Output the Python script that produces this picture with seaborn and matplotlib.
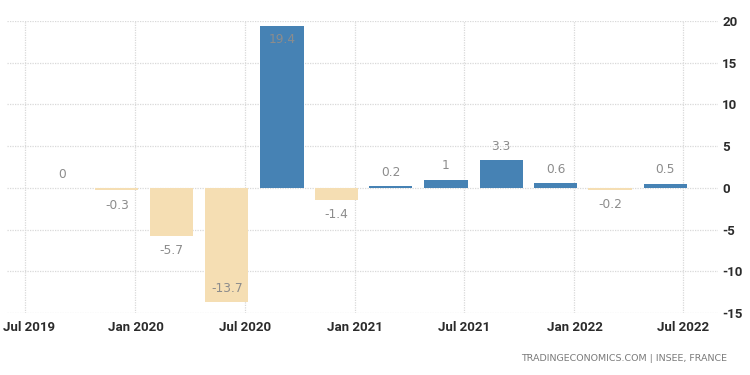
import pandas as pd
import numpy as np
import matplotlib
matplotlib.use("Agg")
import matplotlib.pyplot as plt
import matplotlib.dates as mdates
import matplotlib.transforms as mtransforms
import seaborn as sns

# quarterly GDP growth, France (QoQ %)
quarters = ["2019-09-01", "2019-12-01", "2020-03-01", "2020-06-01",
            "2020-09-01", "2020-12-01", "2021-03-01", "2021-06-01",
            "2021-09-01", "2021-12-01", "2022-03-01", "2022-06-01"]
values = [0, -0.3, -5.7, -13.7, 19.4, -1.4, 0.2, 1, 3.3, 0.6, -0.2, 0.5]
value_labels = ["0", "-0.3", "-5.7", "-13.7", "19.4", "-1.4", "0.2", "1", "3.3", "0.6", "-0.2", "0.5"]

tick_dates = ["2019-07-01", "2020-01-01", "2020-07-01", "2021-01-01",
              "2021-07-01", "2022-01-01", "2022-07-01"]
tick_labels = ["Jul 2019", "Jan 2020", "Jul 2020", "Jan 2021",
               "Jul 2021", "Jan 2022", "Jul 2022"]
y_ticks = [-15, -10, -5, 0, 5, 10, 15, 20]

sns.set_style("white")
plt.rcParams["font.family"] = ["Roboto", "DejaVu Sans"]

df = pd.DataFrame({
    "x": mdates.date2num(pd.to_datetime(quarters)),
    "v": values,
})
df["sign"] = np.where(df["v"] >= 0, "pos", "neg")

fig = plt.figure(figsize=(7.5, 3.75), dpi=100)
ax = fig.add_axes([0.0093, 0.165, 0.948, 0.779])

sns.barplot(data=df, x="x", y="v", hue="sign",
            palette={"pos": "#4682b4", "neg": "#f5deb3"},
            native_scale=True, dodge=False, width=0.8,
            legend=False, saturation=1, linewidth=0, ax=ax)

ymin, ymax = -15, 20
ax.set_ylim(ymin, ymax)
ax.set_xlim(mdates.date2num(pd.Timestamp("2019-06-01")),
            mdates.date2num(pd.Timestamp("2022-08-28")))

# value labels: outside the bar end, flipped inside if they would leave the axes
for x, v, lab in zip(df["x"], df["v"], value_labels):
    if v >= 0:
        off = 10
        if v + 2.2 > ymax:
            off = -10
    else:
        off = -11
        if v - 2.2 < ymin:
            off = 10
    ax.annotate(lab, (x, v), xytext=(0, off), textcoords="offset points",
                ha="center", va="center", fontsize=8.8, color="#8c8c8c",
                family=["DejaVu Sans"])

ax.set_xticks(mdates.date2num(pd.to_datetime(tick_dates)))
ax.set_xticklabels(tick_labels)
ax.set_yticks(y_ticks)
ax.set_yticklabels([str(t) for t in y_ticks])
ax.yaxis.tick_right()
ax.tick_params(axis="both", length=0, labelsize=9.5, colors="#2b2b2b")
ax.tick_params(axis="y", pad=3)
ax.tick_params(axis="x", pad=6)
for lbl in ax.get_xticklabels() + ax.get_yticklabels():
    lbl.set_fontweight("bold")

# nudge the first date label so it stays inside the figure
first = ax.get_xticklabels()[0]
first.set_transform(first.get_transform() +
                    mtransforms.ScaledTranslation(3 / 72, 0, fig.dpi_scale_trans))

ax.grid(True, axis="both", color="#d9d9d9", linestyle=(0, (1, 1)), linewidth=0.9)
ax.set_axisbelow(True)
for s in ax.spines.values():
    s.set_visible(False)
ax.set_xlabel("")
ax.set_ylabel("")

fig.text(0.969, 0.045, "TRADINGECONOMICS.COM | INSEE, FRANCE", ha="right",
         va="center", fontsize=6.8, color="#7a7a7a", family=["DejaVu Sans"])

fig.savefig("out.png", dpi=100)
